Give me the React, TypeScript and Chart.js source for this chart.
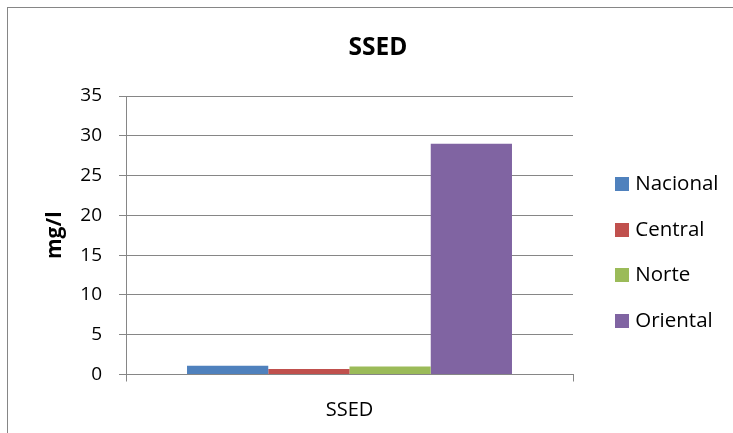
import React, { useEffect, useRef } from "react";
import { Chart, registerables } from "chart.js";

Chart.register(...registerables);

// Chart data
const categories = ["SSED"];
const seriesNames = ["Nacional", "Central", "Norte", "Oriental"];
const nacional = [1.1];
const central = [0.7];
const norte = [1.0];
const oriental = [29.0];
const seriesColors = ["#4F81BD", "#C0504D", "#9BBB59", "#8064A2"];

const chartTitle = "SSED";
const yAxisTitle = "mg/l";
const yMin = 0;
const yMax = 35;
const yStep = 5;

const FONT = "'Open Sans', 'DejaVu Sans', sans-serif";
const GRAY = "#868686";

// Room kept to the right of the plot: gap before the legend plus the legend column
const LEGEND_GAP = 21;
const LEGEND_COLUMN = 137;

// Outer frame of the chart, drawn behind everything else
const framePlugin = {
  id: "frame",
  beforeDraw(chart: any) {
    const { ctx, width, height } = chart;
    ctx.save();
    ctx.fillStyle = "#ffffff";
    ctx.fillRect(0, 0, width, height);
    ctx.strokeStyle = GRAY;
    ctx.lineWidth = 1;
    ctx.strokeRect(7.5, 7.5, width - 15, height - 15);
    ctx.restore();
  },
};

// Square colour swatch used as the legend marker
function makeSwatch(color: string): HTMLCanvasElement {
  const c = document.createElement("canvas");
  c.width = 14;
  c.height = 14;
  const g = c.getContext("2d")!;
  g.fillStyle = color;
  g.fillRect(0, 0, 14, 14);
  return c;
}

// Invisible spacer axis that only reserves horizontal room
function spacer(getWidth: (s: any) => number, weight: number) {
  return {
    type: "linear",
    position: "right",
    display: true,
    weight,
    afterFit(s: any) {
      s.width = getWidth(s);
    },
    grid: { display: false },
    border: { display: false },
    ticks: { display: false },
  };
}

export default function App() {
  const canvasRef = useRef<HTMLCanvasElement | null>(null);

  useEffect(() => {
    if (!canvasRef.current) return;
    const values = [nacional, central, norte, oriental];
    const swatches = seriesColors.map(makeSwatch);
    const chart = new Chart(canvasRef.current, {
      type: "bar",
      data: {
        labels: categories,
        datasets: seriesNames.map((name, i) => ({
          label: name,
          data: values[i],
          backgroundColor: seriesColors[i],
          borderWidth: 0,
          barPercentage: 1,
          categoryPercentage: 0.727,
        })),
      },
      options: {
        responsive: false,
        animation: false,
        devicePixelRatio: 1,
        layout: { padding: { left: 25, right: 25, top: 0, bottom: 0 } },
        plugins: {
          title: {
            display: true,
            text: chartTitle,
            color: "#000",
            font: { family: FONT, size: 24.5, weight: "bold" },
            padding: { top: 33, bottom: 33.6 },
          },
          legend: {
            display: true,
            position: "right",
            maxWidth: LEGEND_COLUMN,
            labels: {
              usePointStyle: true,
              boxWidth: 6,
              boxHeight: 14,
              padding: 25,
              color: "#000",
              font: { family: FONT, size: 20.5 },
              generateLabels: (c: any) => {
                const items = (Chart as any).defaults.plugins.legend.labels.generateLabels(c);
                return items.map((item: any, i: number) => ({
                  ...item,
                  pointStyle: swatches[i],
                }));
              },
            },
          },
          tooltip: { enabled: false },
        },
        scales: {
          x: {
            afterFit(s: any) {
              s.height = 130.5;
            },
            grid: {
              display: true,
              drawOnChartArea: false,
              drawTicks: true,
              tickLength: 7,
              color: GRAY,
            },
            border: { display: true, color: GRAY },
            ticks: {
              color: "#000",
              padding: 16.5,
              font: { family: FONT, size: 20 },
            },
          },
          y: {
            min: yMin,
            max: yMax,
            afterFit(s: any) {
              s.width = 101;
            },
            ticks: {
              stepSize: yStep,
              color: "#000",
              padding: 17,
              font: { family: FONT, size: 19 },
            },
            grid: {
              color: GRAY,
              tickLength: 7,
            },
            border: { display: true, color: GRAY },
            title: {
              display: true,
              text: yAxisTitle,
              color: "#000",
              font: { family: FONT, size: 21, weight: "bold" },
              padding: { top: 17.4, bottom: 0 },
            },
          },
          gapInner: spacer(() => LEGEND_GAP, 0),
          gapOuter: spacer(
            (s) => Math.max(0, LEGEND_COLUMN - (s.chart.legend ? s.chart.legend.width : 0)),
            2000
          ),
        },
      },
      plugins: [framePlugin],
    } as any);
    return () => chart.destroy();
  }, []);

  return (
    <div
      style={{
        position: "fixed",
        left: 0,
        top: 0,
        width: 733,
        height: 433,
        overflow: "hidden",
        background: "#fff",
      }}
    >
      <canvas
        ref={canvasRef}
        width={756}
        height={505}
        style={{ display: "block", width: 756, height: 505 }}
      />
    </div>
  );
}
